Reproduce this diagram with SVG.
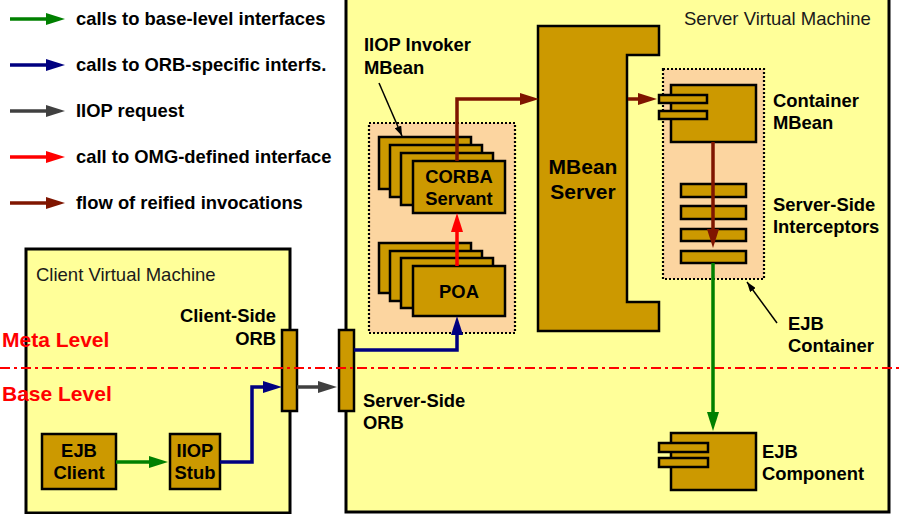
<svg xmlns="http://www.w3.org/2000/svg" width="899" height="514" viewBox="0 0 899 514">
<style>
.vm{fill:#FFFF99;stroke:#000;stroke-width:3}
.box{fill:#CC9900;stroke:#000;stroke-width:2.5}
.dot{fill:#FCD5A0;stroke:#000;stroke-width:2.2;stroke-dasharray:2 2}
.b{font-family:"Liberation Sans",Arial,sans-serif;font-weight:bold;font-size:18.4px;fill:#000}
.big{font-size:21px}
.r{font-family:"Liberation Sans",Arial,sans-serif;font-size:18.5px;fill:#1a1a1a}
.lvl{font-family:"Liberation Sans",Arial,sans-serif;font-weight:bold;font-size:21px;fill:#FF0000}
.c{text-anchor:middle}
.e{text-anchor:end}
.ln{fill:none;stroke-width:3.5}
.green{stroke:#008000}
.blue{stroke:#000080}
.gray{stroke:#404040}
.red{stroke:#FF0000}
.brown{stroke:#7F1500}
.ptr{fill:none;stroke:#000;stroke-width:1.5}
</style>
<defs>
<marker id="hg" markerUnits="userSpaceOnUse" markerWidth="20" markerHeight="12" refX="7" refY="6" orient="auto"><path d="M0,0 L19,6 L0,12 z" fill="#008000"/></marker>
<marker id="hb" markerUnits="userSpaceOnUse" markerWidth="20" markerHeight="12" refX="7" refY="6" orient="auto"><path d="M0,0 L19,6 L0,12 z" fill="#000080"/></marker>
<marker id="hk" markerUnits="userSpaceOnUse" markerWidth="20" markerHeight="12" refX="7" refY="6" orient="auto"><path d="M0,0 L19,6 L0,12 z" fill="#404040"/></marker>
<marker id="hr" markerUnits="userSpaceOnUse" markerWidth="20" markerHeight="12" refX="7" refY="6" orient="auto"><path d="M0,0 L19,6 L0,12 z" fill="#FF0000"/></marker>
<marker id="hw" markerUnits="userSpaceOnUse" markerWidth="20" markerHeight="12" refX="7" refY="6" orient="auto"><path d="M0,0 L19,6 L0,12 z" fill="#7F1500"/></marker>
<marker id="hp" markerUnits="userSpaceOnUse" markerWidth="10" markerHeight="7" refX="10" refY="3.5" orient="auto"><path d="M0,0 L10,3.5 L0,7 z" fill="#000"/></marker>
</defs>
<rect width="899" height="514" fill="#fff"/>

<g id="legend">
<path class="ln green" d="M10,19 H53" marker-end="url(#hg)"/>
<text class="b" x="76" y="25">calls to base-level interfaces</text>
<path class="ln blue" d="M10,65 H53" marker-end="url(#hb)"/>
<text class="b" x="76" y="71">calls to ORB-specific interfs.</text>
<path class="ln gray" d="M10,111 H53" marker-end="url(#hk)"/>
<text class="b" x="76" y="117">IIOP request</text>
<path class="ln red" d="M10,157 H53" marker-end="url(#hr)"/>
<text class="b" x="76" y="163">call to OMG-defined interface</text>
<path class="ln brown" d="M10,203 H53" marker-end="url(#hw)"/>
<text class="b" x="76" y="209">flow of reified invocations</text>
</g>

<g id="server-vm">
<rect class="vm" x="346" y="-10" width="543" height="522"/>
<text class="r" x="684" y="25">Server Virtual Machine</text>
</g>
<g id="client-vm">
<rect class="vm" x="26" y="249" width="264" height="264"/>
<text class="r" x="36" y="281">Client Virtual Machine</text>
</g>

<g id="iiop-invoker-mbean">
<rect class="dot" x="369" y="123" width="146" height="210"/>
<text class="b" x="364" y="51">IIOP Invoker</text>
<text class="b" x="364" y="74">MBean</text>
</g>
<g id="corba-servant">
<rect class="box" x="379" y="137" width="92" height="52"/>
<rect class="box" x="390" y="145" width="92" height="52"/>
<rect class="box" x="401" y="153" width="92" height="52"/>
<rect class="box" x="413" y="161" width="92" height="52"/>
<text class="b c" x="459" y="183">CORBA</text>
<text class="b c" x="459" y="205">Servant</text>
</g>
<g id="poa">
<rect class="box" x="379" y="243" width="92" height="50"/>
<rect class="box" x="390" y="251" width="92" height="50"/>
<rect class="box" x="401" y="258" width="92" height="50"/>
<rect class="box" x="413" y="266" width="92" height="50"/>
<text class="b c" x="459" y="298">POA</text>
</g>

<g id="mbean-server">
<path class="box" d="M538,26 H659 V55 H627 V302 H659 V331 H538 Z"/>
<text class="b big c" x="583" y="174">MBean</text>
<text class="b big c" x="583" y="199">Server</text>
</g>

<g id="ejb-container">
<rect class="dot" x="663" y="69" width="101" height="210"/>
<text class="b" x="788" y="330">EJB</text>
<text class="b" x="788" y="352">Container</text>
</g>
<g id="container-mbean">
<rect class="box" x="671" y="85" width="85" height="57"/>
<rect class="box" x="659" y="95" width="48" height="8"/>
<rect class="box" x="659" y="111" width="48" height="8"/>
<text class="b" x="773" y="107">Container</text>
<text class="b" x="773" y="129">MBean</text>
</g>
<g id="server-side-interceptors">
<rect class="box" x="681" y="184" width="65" height="13"/>
<rect class="box" x="681" y="206" width="65" height="13"/>
<rect class="box" x="681" y="229" width="65" height="12"/>
<rect class="box" x="681" y="251" width="65" height="12"/>
<text class="b" x="773" y="211">Server-Side</text>
<text class="b" x="773" y="233">Interceptors</text>
</g>
<g id="ejb-component">
<rect class="box" x="671" y="433" width="85" height="57"/>
<rect class="box" x="659" y="443" width="49" height="9"/>
<rect class="box" x="659" y="458" width="49" height="9"/>
<text class="b" x="762" y="458">EJB</text>
<text class="b" x="762" y="480">Component</text>
</g>

<g id="client-side-orb">
<rect class="box" x="282" y="330" width="15" height="81"/>
<text class="b e" x="276" y="322">Client-Side</text>
<text class="b e" x="276" y="345">ORB</text>
</g>
<g id="server-side-orb">
<rect class="box" x="339" y="330" width="15" height="81"/>
<text class="b" x="363" y="407">Server-Side</text>
<text class="b" x="363" y="429">ORB</text>
</g>
<g id="ejb-client">
<rect class="box" x="42" y="434" width="74" height="55"/>
<text class="b c" x="79" y="457">EJB</text>
<text class="b c" x="79" y="479">Client</text>
</g>
<g id="iiop-stub">
<rect class="box" x="170" y="434" width="50" height="55"/>
<text class="b c" x="195" y="457">IIOP</text>
<text class="b c" x="195" y="479">Stub</text>
</g>

<g id="levels">
<line x1="0" y1="368" x2="899" y2="368" stroke="#FF0000" stroke-width="2" stroke-dasharray="10 4 3 4"/>
<text class="lvl" x="2" y="347">Meta Level</text>
<text class="lvl" x="2" y="401">Base Level</text>
</g>

<g id="connectors">
<path class="ln brown" d="M457,161 V99 H527" marker-end="url(#hw)"/>
<path class="ln brown" d="M628,99 H645" marker-end="url(#hw)"/>
<path class="ln brown" d="M713,142 V236" marker-end="url(#hw)"/>
<path class="ln green" d="M713,263 V419" marker-end="url(#hg)"/>
<path class="ln red" d="M457,266 V225" marker-end="url(#hr)"/>
<path class="ln blue" d="M354,350 H457 V328" marker-end="url(#hb)"/>
<path class="ln gray" d="M297,387 H325" marker-end="url(#hk)"/>
<path class="ln green" d="M116,462 H156" marker-end="url(#hg)"/>
<path class="ln blue" d="M220,462 H252 V387 H270" marker-end="url(#hb)"/>
<path class="ptr" d="M379,83 L402,136" marker-end="url(#hp)"/>
<path class="ptr" d="M777,323 L747,282" marker-end="url(#hp)"/>
</g>
</svg>
